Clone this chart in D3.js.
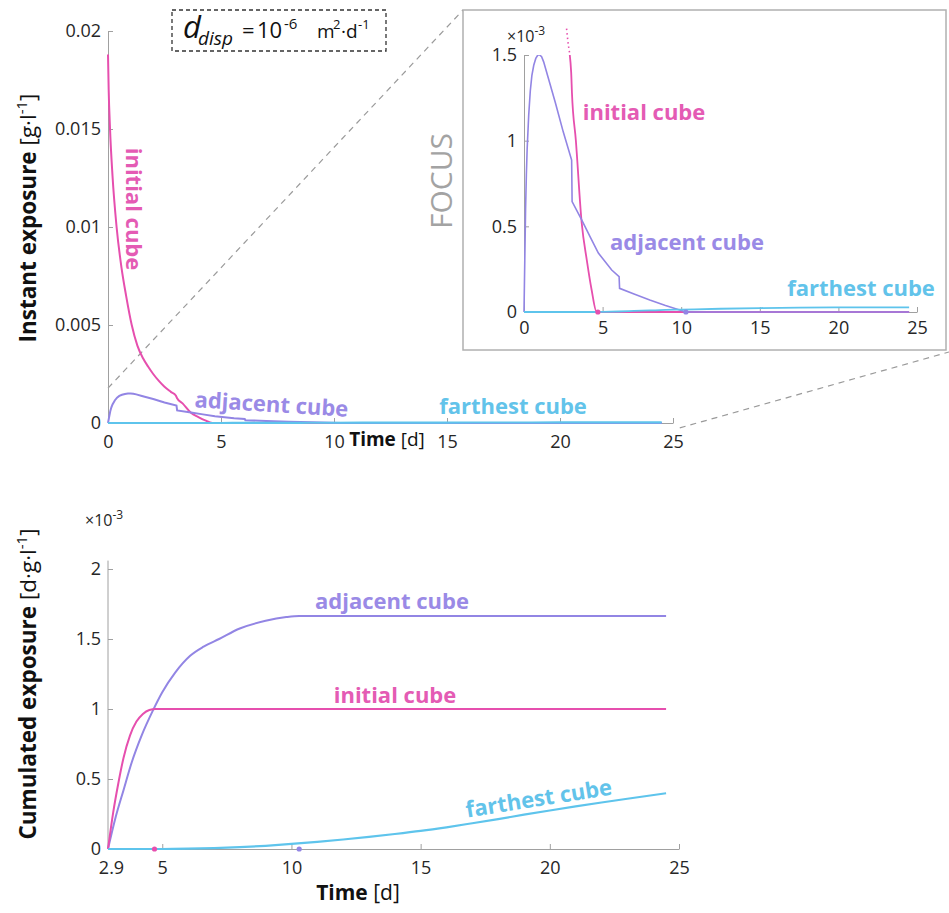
<!DOCTYPE html>
<html><head><meta charset="utf-8">
<script src="https://cdn.jsdelivr.net/npm/d3@7"></script>
<style>
body{margin:0;background:#fff}
svg text{font-family:'Open Sans',sans-serif}
</style>
</head><body>
<svg id="chart" width="949" height="913"></svg>
<script>
// ---------------- DATA ----------------
// Instant exposure (units: x10^-3 g·l^-1)
const initialInstT = [0, 0.03, 0.09, 0.2, 0.38, 0.6, 0.8, 1.05, 1.3, 1.55, 1.78, 2.0, 2.25, 2.5, 2.78, 3.0, 3.05, 3.3, 3.67, 4.0, 4.3, 4.62, 24.5];
const initialInstV = [18.8, 17.0, 15.0, 12.6, 10.0, 7.9, 6.5, 5.0, 3.95, 3.3, 2.87, 2.5, 2.15, 1.85, 1.59, 1.4, 1.28, 1.0, 0.52, 0.3, 0.13, 0, 0];
const adjacentInstT = [0, 0.05, 0.1, 0.15, 0.2, 0.3, 0.4, 0.5, 0.62, 0.75, 0.88, 1.0, 1.12, 1.25, 1.5, 2.0, 2.5, 3.03, 3.06, 3.67, 4.2, 4.73, 5.58, 6.05, 6.08, 7, 8, 9, 10.3, 24.5];
const adjacentInstV = [0, 0.3, 0.6, 0.8, 0.95, 1.15, 1.29, 1.38, 1.44, 1.48, 1.5, 1.5, 1.49, 1.46, 1.38, 1.22, 1.05, 0.887, 0.644, 0.537, 0.44, 0.344, 0.245, 0.206, 0.138, 0.105, 0.07, 0.038, 0, 0];
const farthestInstT = [0, 4, 5, 6, 7, 8, 9, 10, 12.5, 15, 17.5, 20, 22.5, 24.5];
const farthestInstV = [0, 0, 0.001, 0.003, 0.006, 0.009, 0.012, 0.014, 0.019, 0.023, 0.026, 0.027, 0.027, 0.027];

// Cumulated exposure (units: x10^-3 d·g·l^-1)
const initialCumT = [2.9, 3.1, 3.3, 3.5, 3.75, 4.0, 4.25, 4.5, 4.75, 24.5];
const initialCumV = [0, 0.26, 0.47, 0.65, 0.81, 0.91, 0.965, 0.993, 1.0, 1.0];
const adjacentCumT = [2.9, 3.2, 3.5, 3.82, 4.2, 4.64, 5.0, 5.5, 6.08, 6.6, 7.2, 8, 9, 9.8, 10.3, 24.5];
const adjacentCumV = [0, 0.23, 0.42, 0.62, 0.81, 0.99, 1.12, 1.26, 1.38, 1.445, 1.5, 1.575, 1.63, 1.657, 1.665, 1.665];
const farthestCumT = [2.9, 5, 6, 7, 8, 9, 10, 11, 12, 13, 14, 15, 16, 17, 18, 19, 20, 21, 22, 23, 24.5];
const farthestCumV = [0, 0, 0.002, 0.006, 0.013, 0.023, 0.036, 0.051, 0.068, 0.087, 0.107, 0.129, 0.155, 0.184, 0.214, 0.245, 0.275, 0.304, 0.332, 0.359, 0.398];

// days at which exposure of initial / adjacent cube returns to zero (markers)
const zeroDays = [4.7, 10.3];

// ticks
const mainXTicks = [0, 5, 10, 15, 20, 25];
const mainYTicks = [0, 0.005, 0.01, 0.015, 0.02];
const mainYLabels = ["0", "0.005", "0.01", "0.015", "0.02"];
const insetXTicks = [0, 5, 10, 15, 20, 25];
const insetYTicks = [0, 0.5, 1, 1.5];
const cumXTicks = [2.9, 5, 10, 15, 20, 25];
const cumXLabels = ["2.9", "5", "10", "15", "20", "25"];
const cumYTicks = [0, 0.5, 1, 1.5, 2];
const focusX = [0, 25.3];
const focusY = [-0.00025, 0.00178];

const COL = {initial: "#e64fae", adjacent: "#9285e4", farthest: "#5ec4ec"};
const TXT = {initial: "#e45bb4", adjacent: "#9a8ae6", farthest: "#62c3ea"};

// ---------------- DRAW ----------------
const svg = d3.select("#chart");
svg.append("rect").attr("width", 949).attr("height", 913).attr("fill", "#fff");

function zip(t, v) { return t.map((d, i) => [d, v[i]]); }

function styleAxis(g, fs) {
  g.attr("font-family", "'Open Sans',sans-serif").attr("font-size", fs);
  g.select(".domain").attr("stroke", "#a0a0a0").attr("stroke-width", 1);
  g.selectAll(".tick line").attr("stroke", "#a0a0a0");
  g.selectAll(".tick text").attr("fill", "#262626");
}

// ===== Main (instant) chart =====
const mx = d3.scaleLinear([0, 25], [108, 673]);
const my = d3.scaleLinear([0, 0.02], [423, 31]);

// connector dashed lines (behind)
const insetBox = {x0: 463, y0: 10, x1: 946, y1: 350};
svg.append("line").attr("x1", mx(focusX[0])).attr("y1", my(focusY[1])).attr("x2", insetBox.x0).attr("y2", insetBox.y0)
  .attr("stroke", "#9a9a9a").attr("stroke-width", 1.2).attr("stroke-dasharray", "6,5");
svg.append("line").attr("x1", mx(focusX[1])).attr("y1", my(focusY[0])).attr("x2", insetBox.x1 + 3).attr("y2", insetBox.y1 + 2)
  .attr("stroke", "#9a9a9a").attr("stroke-width", 1.2).attr("stroke-dasharray", "6,5");

const gmx = svg.append("g").attr("transform", `translate(0,${my(0)})`)
  .call(d3.axisBottom(mx).tickValues(mainXTicks).tickSizeInner(-5).tickSizeOuter(0).tickPadding(12));
styleAxis(gmx, 18);
const gmy = svg.append("g").attr("transform", `translate(${mx(0)},0)`)
  .call(d3.axisLeft(my).tickValues(mainYTicks).tickFormat((d, i) => mainYLabels[i]).tickSizeInner(-5).tickSizeOuter(0).tickPadding(7));
styleAxis(gmy, 18);

const lineMain = d3.line().x(d => mx(d[0])).y(d => my(d[1] * 1e-3)).curve(d3.curveMonotoneX);
const lineMainLin = d3.line().x(d => mx(d[0])).y(d => my(d[1] * 1e-3));
svg.append("path").attr("d", lineMain(zip(initialInstT, initialInstV))).attr("fill", "none").attr("stroke", COL.initial).attr("stroke-width", 2);
svg.append("path").attr("d", lineMainLin(zip(adjacentInstT, adjacentInstV))).attr("fill", "none").attr("stroke", COL.adjacent).attr("stroke-width", 2);
svg.append("path").attr("d", lineMain(zip(farthestInstT, farthestInstV))).attr("fill", "none").attr("stroke", COL.farthest).attr("stroke-width", 2.2);

// axis labels
function axisLabel(x, y, bold, unit, sup) {
  const t = svg.append("text").attr("transform", `translate(${x},${y}) rotate(-90)`)
    .attr("text-anchor", "middle").attr("font-size", 22.5).attr("fill", "#111");
  t.append("tspan").attr("font-weight", 700).text(bold);
  t.append("tspan").attr("font-weight", 400).text(" [" + unit);
  t.append("tspan").attr("font-size", 15).attr("dy", -9).text(sup);
  t.append("tspan").attr("dy", 9).text("]");
}
axisLabel(36, 218, "Instant exposure", "g·l", "-1");
function timeLabel(x, y, fs) {
  const t = svg.append("text").attr("x", x).attr("y", y).attr("text-anchor", "middle").attr("font-size", fs).attr("fill", "#111");
  t.append("tspan").attr("font-weight", 700).text("Time");
  t.append("tspan").attr("font-weight", 400).text(" [d]");
}
timeLabel(387, 446, 19);

// series labels (main)
svg.append("text").attr("transform", "translate(126,209) rotate(90)").attr("text-anchor", "middle")
  .attr("font-size", 22).attr("font-weight", 700).attr("fill", TXT.initial).text("initial cube");
svg.append("text").attr("transform", "translate(271,412) rotate(3.5)").attr("text-anchor", "middle")
  .attr("font-size", 22).attr("font-weight", 700).attr("fill", TXT.adjacent).text("adjacent cube");
svg.append("text").attr("x", 513).attr("y", 414).attr("text-anchor", "middle")
  .attr("font-size", 22).attr("font-weight", 700).attr("fill", TXT.farthest).text("farthest cube");

// formula box
svg.append("rect").attr("x", 172).attr("y", 10).attr("width", 214).attr("height", 41)
  .attr("fill", "#fff").attr("stroke", "#333").attr("stroke-width", 1.3).attr("stroke-dasharray", "4,3");
function ft(x, y, s, size, serif, italic) {
  svg.append("text").attr("x", x).attr("y", y).attr("font-size", size).attr("fill", "#111")
    .attr("font-family", serif ? "'Liberation Serif',serif" : "'Open Sans',sans-serif")
    .attr("font-style", italic ? "italic" : "normal").text(s);
}
ft(183, 38, "d", 31, true, true);
ft(198, 45, "disp", 19, true, true);
ft(242, 38, "=", 22, false, false);
ft(257, 38, "10", 22, false, false);
ft(284, 29, "-6", 15, false, false);
ft(317, 38, "m", 19, false, false);
ft(333, 29, "2", 13, false, false);
ft(341, 38, "·d", 19, false, false);
ft(358, 29, "-1", 13, false, false);

// ===== Inset (focus) =====
svg.append("rect").attr("x", insetBox.x0).attr("y", insetBox.y0).attr("width", insetBox.x1 - insetBox.x0).attr("height", insetBox.y1 - insetBox.y0)
  .attr("fill", "#fff").attr("stroke", "#b0b0b0").attr("stroke-width", 1.5);
const ix = d3.scaleLinear([0, 25], [524, 917]);
const iy = d3.scaleLinear([0, 1.5], [312, 55]);
const gix = svg.append("g").attr("transform", `translate(0,${iy(0)})`)
  .call(d3.axisBottom(ix).tickValues(insetXTicks).tickSizeInner(-5).tickSizeOuter(0).tickPadding(9));
styleAxis(gix, 18);
const giy = svg.append("g").attr("transform", `translate(${ix(0)},0)`)
  .call(d3.axisLeft(iy).tickValues(insetYTicks).tickFormat(d3.format("")).tickSizeInner(-5).tickSizeOuter(0).tickPadding(7));
styleAxis(giy, 18);
const ex1 = svg.append("text").attr("x", 507).attr("y", 42).attr("font-size", 16).attr("fill", "#262626");
ex1.append("tspan").text("×10");
ex1.append("tspan").attr("font-size", 12).attr("dy", -7).text("-3");

const defs = svg.append("defs");
defs.append("clipPath").attr("id", "insetSolid").append("rect").attr("x", 520).attr("y", iy(1.5)).attr("width", 410).attr("height", iy(0) - iy(1.5) + 4);
defs.append("clipPath").attr("id", "insetDot").append("rect").attr("x", 520).attr("y", 27).attr("width", 410).attr("height", iy(1.5) - 27);

const lineInset = d3.line().x(d => ix(d[0])).y(d => iy(d[1])).curve(d3.curveMonotoneX);
const lineInsetLin = d3.line().x(d => ix(d[0])).y(d => iy(d[1]));
const gi = svg.append("g");
gi.append("path").attr("d", lineInset(zip(initialInstT, initialInstV))).attr("clip-path", "url(#insetDot)")
  .attr("fill", "none").attr("stroke", COL.initial).attr("stroke-width", 1.6).attr("stroke-dasharray", "1.5,3");
gi.append("path").attr("d", lineInset(zip(initialInstT, initialInstV))).attr("clip-path", "url(#insetSolid)")
  .attr("fill", "none").attr("stroke", COL.initial).attr("stroke-width", 1.8);
gi.append("path").attr("d", lineInsetLin(zip(adjacentInstT, adjacentInstV))).attr("clip-path", "url(#insetSolid)")
  .attr("fill", "none").attr("stroke", COL.adjacent).attr("stroke-width", 1.6);
gi.append("path").attr("d", lineInset(zip(farthestInstT, farthestInstV))).attr("clip-path", "url(#insetSolid)")
  .attr("fill", "none").attr("stroke", COL.farthest).attr("stroke-width", 1.8);
gi.selectAll("circle").data(zeroDays).join("circle").attr("cx", d => ix(d)).attr("cy", iy(0)).attr("r", 2.6)
  .attr("fill", (d, i) => i === 0 ? COL.initial : COL.adjacent);

svg.append("text").attr("transform", "translate(452,181) rotate(-90)").attr("text-anchor", "middle")
  .attr("font-size", 30).attr("fill", "#a3a3a3").text("FOCUS");
svg.append("text").attr("x", 644).attr("y", 120).attr("text-anchor", "middle")
  .attr("font-size", 22).attr("font-weight", 700).attr("fill", TXT.initial).text("initial cube");
svg.append("text").attr("x", 687).attr("y", 250).attr("text-anchor", "middle")
  .attr("font-size", 22).attr("font-weight", 700).attr("fill", TXT.adjacent).text("adjacent cube");
svg.append("text").attr("x", 861).attr("y", 296).attr("text-anchor", "middle")
  .attr("font-size", 22).attr("font-weight", 700).attr("fill", TXT.farthest).text("farthest cube");

// ===== Cumulated chart =====
const cx = d3.scaleLinear([2.9, 25], [108, 679]);
const cy = d3.scaleLinear([0, 2], [849, 569]);
const gcx = svg.append("g").attr("transform", `translate(0,${cy(0)})`)
  .call(d3.axisBottom(cx).tickValues(cumXTicks).tickFormat((d, i) => cumXLabels[i]).tickSizeInner(-5).tickSizeOuter(0).tickPadding(12));
styleAxis(gcx, 18);
gcx.selectAll(".tick text").filter((d, i) => i === 0).attr("dx", 3);
const gcy = svg.append("g").attr("transform", `translate(${cx(2.9)},0)`)
  .call(d3.axisLeft(cy).tickValues(cumYTicks).tickFormat(d3.format("")).tickSizeInner(-5).tickSizeOuter(0).tickPadding(7));
styleAxis(gcy, 18);
gcy.select(".domain").attr("d", `M0,${cy(0)}V${cy(2.06)}`);
const ex2 = svg.append("text").attr("x", 85).attr("y", 526).attr("font-size", 16).attr("fill", "#262626");
ex2.append("tspan").text("×10");
ex2.append("tspan").attr("font-size", 12).attr("dy", -7).text("-3");

const lineCum = d3.line().x(d => cx(d[0])).y(d => cy(d[1])).curve(d3.curveMonotoneX);
svg.append("path").attr("d", lineCum(zip(adjacentCumT, adjacentCumV))).attr("fill", "none").attr("stroke", COL.adjacent).attr("stroke-width", 2);
svg.append("path").attr("d", lineCum(zip(initialCumT, initialCumV))).attr("fill", "none").attr("stroke", COL.initial).attr("stroke-width", 2);
svg.append("path").attr("d", lineCum(zip(farthestCumT, farthestCumV))).attr("fill", "none").attr("stroke", COL.farthest).attr("stroke-width", 2.2);
svg.append("g").selectAll("circle").data(zeroDays).join("circle").attr("cx", d => cx(d)).attr("cy", cy(0)).attr("r", 2.6)
  .attr("fill", (d, i) => i === 0 ? COL.initial : COL.adjacent);

axisLabel(36, 684, "Cumulated exposure", "d·g·l", "-1");
timeLabel(358, 900, 21);

svg.append("text").attr("x", 392).attr("y", 609).attr("text-anchor", "middle")
  .attr("font-size", 22).attr("font-weight", 700).attr("fill", TXT.adjacent).text("adjacent cube");
svg.append("text").attr("x", 395).attr("y", 703).attr("text-anchor", "middle")
  .attr("font-size", 22).attr("font-weight", 700).attr("fill", TXT.initial).text("initial cube");
svg.append("text").attr("transform", "translate(540,806) rotate(-9)").attr("text-anchor", "middle")
  .attr("font-size", 22).attr("font-weight", 700).attr("fill", TXT.farthest).text("farthest cube");
</script>
</body></html>
